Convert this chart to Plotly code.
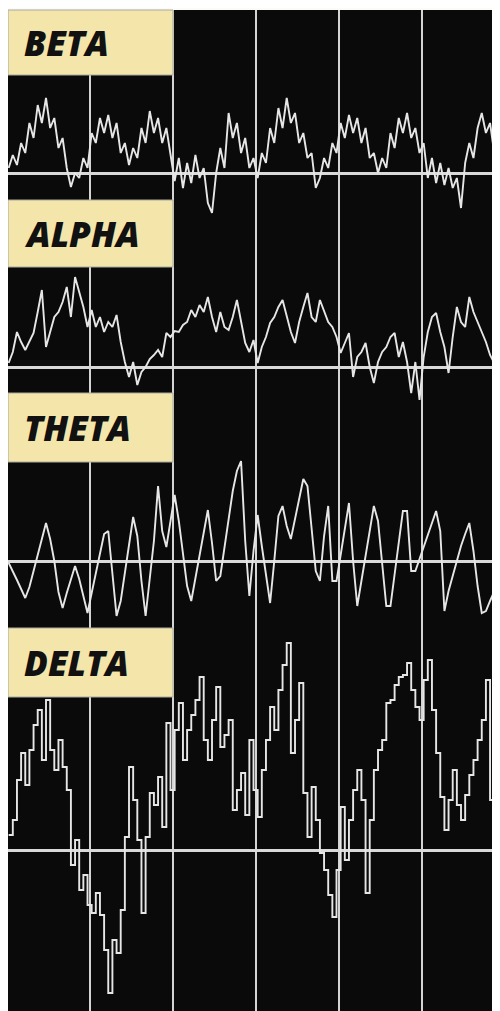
import numpy as np
import plotly.graph_objects as go

# ---------------- data (amplitude above each baseline, arbitrary units) ----------------
band_names = ["BETA", "ALPHA", "THETA", "DELTA"]
sample_dt = 0.05      # seconds between samples
sample_t0 = 0.02      # first sample time (s)

beta = [5, 18, 8, 30, 20, 50, 35, 68, 50, 75, 45, 55, 25, 35, 5, -14, 0, -5, 15, 5,
        40, 30, 55, 40, 58, 35, 50, 20, 30, 8, 25, 15, 45, 30, 62, 40, 55, 30, 45, 20,
        -8, 15, -15, 10, -10, 18, -5, 5, -30, -40, 0, 25, 5, 60, 35, 50, 20, 35, 5, 15,
        -5, 20, 10, 45, 30, 65, 45, 75, 50, 60, 30, 40, 15, 20, -15, -5, 15, 5, 30, 20,
        50, 35, 58, 40, 55, 30, 45, 15, 20, 0, 15, 5, 40, 25, 55, 40, 60, 35, 45, 20,
        30, -5, 15, -10, 10, -12, 5, -15, -5, -35, 10, 30, 15, 45, 60, 40, 50, 20, 35, 15]

alpha = [4, 15, 35, 25, 17, 25, 34, 55, 77, 20, 35, 50, 55, 65, 80, 50, 90, 75, 60, 40,
         57, 40, 50, 35, 45, 40, 52, 25, 5, -10, 5, -18, -5, 0, 8, 12, 17, 10, 34, 30,
         36, 35, 42, 45, 57, 50, 62, 55, 70, 50, 35, 55, 40, 37, 50, 67, 45, 24, 15, 27,
         4, 20, 30, 44, 50, 60, 67, 50, 35, 24, 45, 60, 74, 50, 45, 67, 55, 45, 40, 30,
         14, 25, 34, -10, 10, 15, 24, 0, -16, 5, 15, 20, 30, 34, 10, 25, 5, -26, 5, -33,
         10, 35, 50, 54, 35, 20, -6, 30, 60, 45, 40, 70, 55, 45, 35, 25, 12, 4, 34, 20]

theta = [-2, -10, -19, -28, -37, -26, -10, 6, 22, 38, 22, 0, -31, -47, -32, -19, -5, -18, -34, -52,
         -32, -13, 8, 27, 30, -12, -55, -40, -12, 16, 44, 25, -20, -55, -20, 20, 75, 30, 14, 40,
         66, 40, 10, -25, -40, -18, 8, 30, 51, 18, -20, -15, 15, 45, 70, 90, 100, 20, -35, 10,
         46, 15, -15, -42, 0, 45, 55, 35, 22, 42, 63, 82, 75, 30, -10, -20, 25, 55, -20, -20,
         5, 32, 58, 0, -45, -20, 6, 32, 55, 40, 0, -45, -45, -12, 20, 50, 50, -10, -10, 2,
         12, 25, 37, 50, 30, -50, -30, -15, 0, 15, 27, 38, 10, -25, -52, -50, -40, -30, -20, -12]

delta = [15, 30, 70, 97, 65, 100, 125, 140, 90, 150, 100, 80, 110, 83, 60, -15, 10, -40, -25, -55,
         -63, -43, -65, -100, -143, -90, -103, -60, 13, 83, 50, 10, -63, 13, 57, 45, 73, 23, 127, 60,
         120, 147, 90, 120, 135, 150, 173, 110, 90, 130, 163, 103, 115, 130, 40, 60, 77, 35, 110, 60,
         33, 80, 110, 143, 120, 160, 185, 207, 97, 130, 167, 57, 13, 63, 30, -3, -20, -45, -67, -20,
         43, -10, 30, 60, 80, 50, -43, 30, 80, 100, 110, 147, 150, 165, 173, 175, 187, 160, 143, 130,
         170, 190, 140, 97, 53, 20, 50, 80, 45, 30, 55, 75, 90, 110, 130, 170, 50, 67, 30, 43]

series = [beta, alpha, theta, delta]
line_shapes = ["linear", "linear", "linear", "hv"]

# ---------------- layout constants (page pixels of the 500 x 1011 window) ----------------
PAGE_W, PAGE_H = 500, 1011
BODY = 8                      # default body margin of the html page
PLOT_LEFT, PLOT_TOP = 8, 10   # page position of the black area
FIG_W = PAGE_W - BODY
FIG_H = PAGE_H - BODY
M_L = PLOT_LEFT - BODY
M_T = PLOT_TOP - BODY
plot_w = FIG_W - M_L
plot_h = FIG_H - M_T
PX_PER_S = 83.0
x_lo = 0.012
x_hi = x_lo + plot_w / PX_PER_S
baselines_px = [173, 367, 561, 850]
boxes_px = [(10, 75), (200, 267), (393, 462), (628, 697)]
label_left_px = 22

fig = go.Figure()
for i, (vals, shp) in enumerate(zip(series, line_shapes)):
    t = sample_t0 + sample_dt * np.arange(len(vals))
    fig.add_trace(go.Scatter(
        x=t, y=vals, mode="lines",
        line=dict(color="#e6e6e6", width=1.9, shape=shp),
        yaxis="y" if i == 0 else f"y{i+1}",
        hoverinfo="skip", showlegend=False))

layout = dict(
    width=FIG_W, height=FIG_H,
    margin=dict(l=M_L, r=0, t=M_T, b=0, pad=0, autoexpand=False),
    paper_bgcolor="#fbfbf8",
    plot_bgcolor="#0a0a0a",
    showlegend=False,
    hovermode=False,
    xaxis=dict(range=[x_lo, x_hi], showticklabels=False, ticks="",
               showgrid=True, gridcolor="#d4d4d4", gridwidth=2,
               dtick=1, tick0=0, zeroline=False, showline=False, fixedrange=True),
)
for i, b in enumerate(baselines_px):
    key = "yaxis" if i == 0 else f"yaxis{i+1}"
    ax = dict(range=[-(PAGE_H - b), b - PLOT_TOP], showticklabels=False, ticks="",
              showgrid=False, zeroline=True, zerolinecolor="#d9d9d9",
              zerolinewidth=2.5, fixedrange=True)
    if i == 0:
        ax.update(showline=True, linecolor="#9a9a9a", linewidth=2)
    else:
        ax.update(showline=False, overlaying="y")
    layout[key] = ax
fig.update_layout(**layout)

def py(p):
    return (PAGE_H - p) / plot_h

for name, (y0, y1) in zip(band_names, boxes_px):
    fig.add_shape(type="rect", xref="x", yref="paper",
                  x0=x_lo, x1=2, y0=py(y1), y1=py(y0),
                  fillcolor="#f4e6ab", line=dict(color="#a8a8a0", width=1),
                  layer="above")
    fig.add_annotation(text=name, xref="paper", yref="paper",
                       x=(label_left_px - PLOT_LEFT) / plot_w, y=py((y0 + y1) / 2),
                       xanchor="left", yanchor="middle", showarrow=False,
                       font=dict(family="'Open Sans', Roboto, sans-serif",
                                 size=35, color="#111111", weight=800, style="italic"))

fig.write_html("out.html")
